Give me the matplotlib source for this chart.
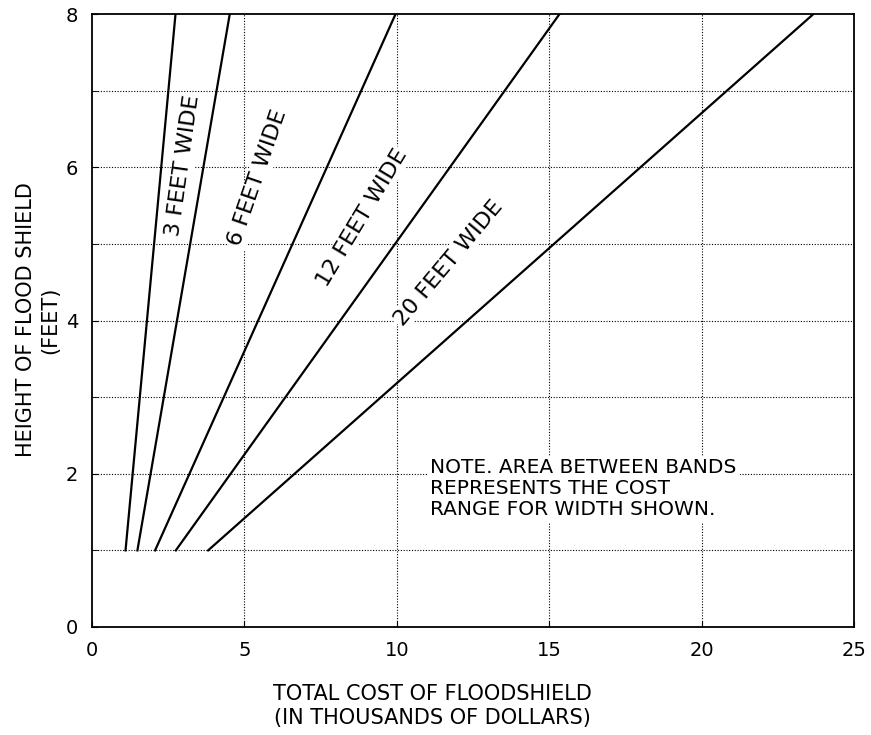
import matplotlib
matplotlib.use("Agg")
import matplotlib.pyplot as plt

# Floodshield cost bands: each line runs from height 1 ft to 8 ft
band_x_start = [1.10, 1.49, 2.07, 2.75, 3.81]   # cost at 1 ft (thousands $)
band_x_end = [2.74, 4.52, 9.96, 15.34, 23.67]   # cost at 8 ft (thousands $)
band_y_start = [1, 1, 1, 1, 1]
band_y_end = [8, 8, 8, 8, 8]

# Width labels placed inside the bands
label_text = ["3 FEET WIDE", "6 FEET WIDE", "12 FEET WIDE", "20 FEET WIDE"]
label_x = [3.0, 5.44, 8.85, 11.7]
label_y = [6.02, 5.86, 5.34, 4.75]
label_rot = [82, 71, 59, 50]

x_ticks = [0, 5, 10, 15, 20, 25]
y_ticks = [0, 2, 4, 6, 8]
x_grid = [5, 10, 15, 20]
y_grid = [1, 2, 3, 4, 5, 6, 7]

plt.rcParams['font.family'] = 'DejaVu Sans'

fig = plt.figure(figsize=(8.71, 7.35), dpi=100)
ax = fig.add_axes([92/871, 1 - 627/735, (854 - 92)/871, (627 - 14)/735])
ax.set_xlim(0, 25)
ax.set_ylim(0, 8)

# dotted grid
for gx in x_grid:
    ax.axvline(gx, color='black', lw=0.8, ls=(0, (1, 1.5)), zorder=1)
for gy in y_grid:
    ax.axhline(gy, color='black', lw=0.8, ls=(0, (1, 1.5)), zorder=1)

# band lines
for x0, x1, y0, y1 in zip(band_x_start, band_x_end, band_y_start, band_y_end):
    ax.plot([x0, x1], [y0, y1], color='black', lw=1.6, zorder=3)

# labels with white background (they break the grid lines)
for t, x, y, r in zip(label_text, label_x, label_y, label_rot):
    ax.text(x, y, t, rotation=r, rotation_mode='anchor', ha='center', va='center',
            fontsize=16, zorder=2,
            bbox=dict(facecolor='white', edgecolor='none', pad=1))

ax.text(11.1, 2.2, "NOTE. AREA BETWEEN BANDS\nREPRESENTS THE COST\nRANGE FOR WIDTH SHOWN.",
        ha='left', va='top', fontsize=14.5, linespacing=1.12, zorder=2,
        bbox=dict(facecolor='white', edgecolor='none', pad=2))

ax.set_xticks(x_ticks)
ax.set_yticks(y_ticks)
ax.set_yticks([1, 3, 5, 7], minor=True)
ax.tick_params(direction='in', length=4, labelsize=14, pad=10)
ax.tick_params(which='minor', direction='in', length=4)
for s in ax.spines.values():
    s.set_linewidth(1.3)

fig.text(432/871, 1 - 706/735, "TOTAL COST OF FLOODSHIELD\n(IN THOUSANDS OF DOLLARS)",
         ha='center', va='center', fontsize=15, linespacing=1.3)
fig.text(38/871, 1 - 320/735, "HEIGHT OF FLOOD SHIELD\n(FEET)",
         ha='center', va='center', rotation=90, fontsize=15, linespacing=1.3)

fig.savefig("out.png", dpi=100)
